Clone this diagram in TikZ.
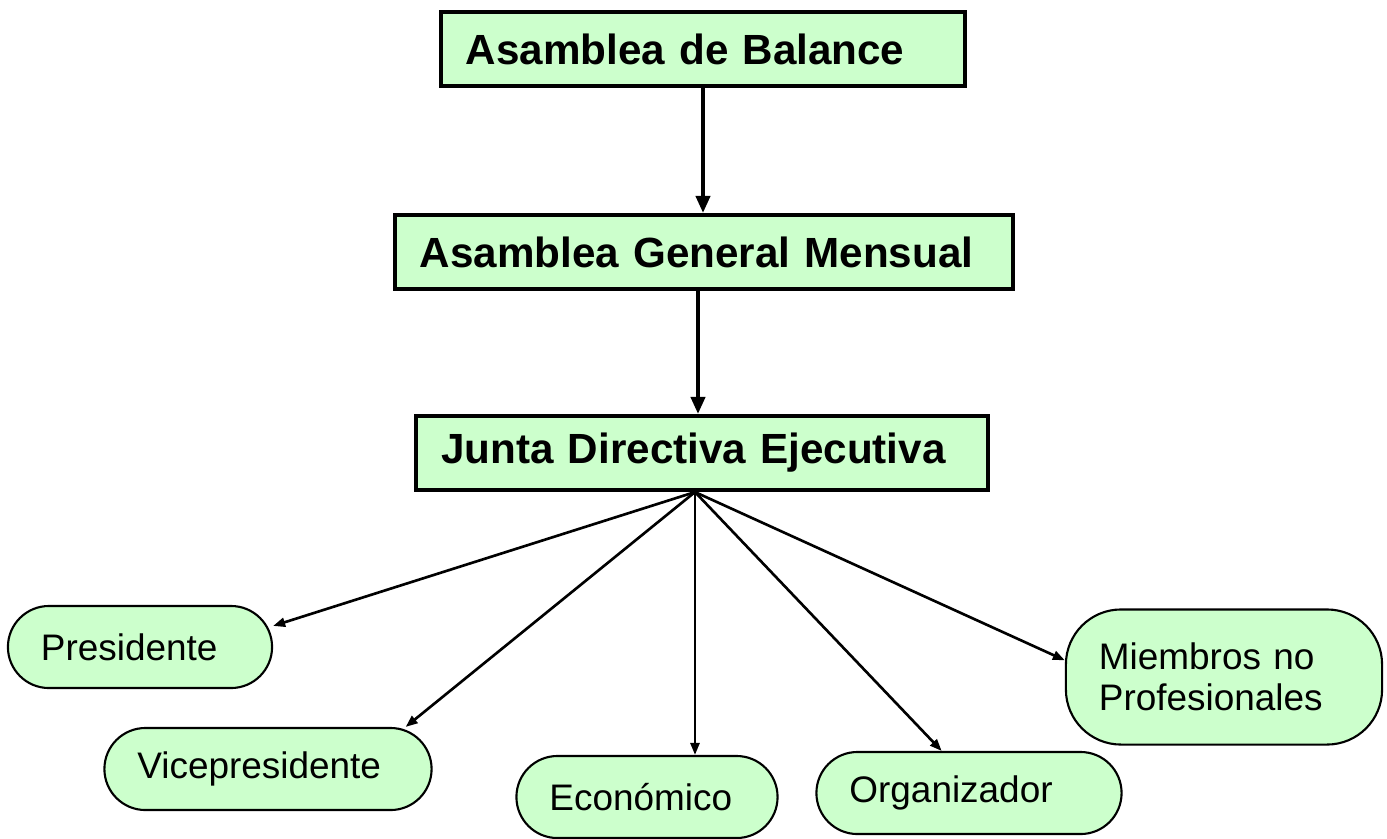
\documentclass[tikz,border=0pt]{standalone}
\usepackage{fontspec}
\setmainfont{Liberation Sans}
\usetikzlibrary{arrows.meta, calc}
\definecolor{paleGreen}{HTML}{CCFFCC}

\begin{document}
\begin{tikzpicture}[x=0.01cm, y=-0.01cm,
  titlebox/.style={draw, line width=1.15pt, fill=paleGreen, font=\fontsize{12}{14}\selectfont\bfseries, align=left, inner xsep=0.25cm, minimum height=0.74cm},
  rolebox/.style={draw, line width=0.6pt, fill=paleGreen, rounded corners=0.41cm, font=\fontsize{10.5}{11.7}\selectfont, align=left, inner xsep=0.33cm, minimum height=0.82cm},
  bigarrow/.style={line width=1.1pt, -{Triangle[length=0.17cm, width=0.14cm]}},
  fanarrow/.style={line width=0.75pt, -{Triangle[length=0.12cm, width=0.09cm]}}]
\useasboundingbox (0,0) rectangle (1387,838);
% top levels
\node[titlebox, text width=4.74cm] (balance) at (703,49) {Asamblea de Balance};
\node[titlebox, text width=5.68cm] (general) at (704,252) {Asamblea General Mensual};
\node[titlebox, text width=5.21cm] (jde) at (702,453) {Junta Directiva Ejecutiva};
\draw[bigarrow] (balance.south) -- (balance.south |- general.north);
\draw[bigarrow] ($(general.south)+(-6,0)$) -- ($(general.south |- jde.north)+(-6,0)$);
% roles
\node[rolebox, text width=1.98cm] (pres) at (140,647) {Presidente};
\node[rolebox, text width=2.61cm] (vice) at (268,769) {Vicepresidente};
\node[rolebox, text width=1.95cm] (eco) at (647,797) {Económico};
\node[rolebox, text width=2.39cm] (org) at (969,793) {Organizador};
\node[rolebox, text width=2.50cm, minimum height=1.35cm, rounded corners=0.55cm] (miem) at (1224,677) {Miembros no\\Profesionales};
\coordinate (fan) at ($(jde.south)+(-7,0)$);
\draw[fanarrow] (fan) -- (pres.9);
\draw[fanarrow] (fan) -- (vice.17);
\draw[fanarrow] (fan) -- (fan |- eco.north);
\draw[fanarrow] (fan) -- (org.123);
\draw[fanarrow] (fan) -- (miem.174);
\end{tikzpicture}
\end{document}
